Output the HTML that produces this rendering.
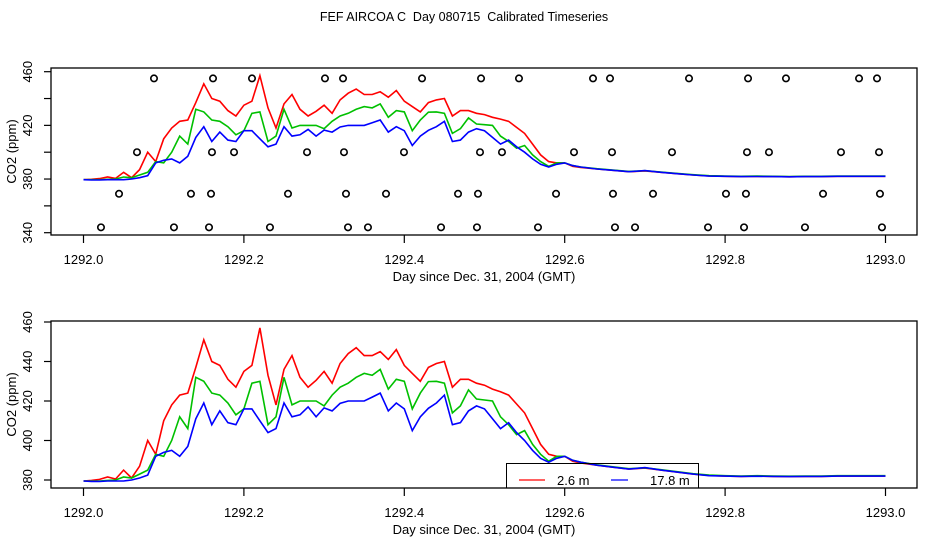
<!DOCTYPE html>
<html><head><meta charset="utf-8"><style>
html,body{margin:0;padding:0;background:#fff;}
svg{display:block;font-family:"Liberation Sans",sans-serif;}
</style></head><body>
<svg id="chart" width="936" height="540" xmlns="http://www.w3.org/2000/svg">
<text x="464" y="21" font-size="12.5" text-anchor="middle" style="white-space:pre">FEF AIRCOA C  Day 080715  Calibrated Timeseries</text>
<g id="top"></g>
<g id="bot"></g>
</svg>
<script>
const dayOffsets = [0,0.01,0.02,0.03,0.04,0.05,0.06,0.07,0.08,0.09,0.10,0.11,0.12,0.13,0.14,0.15,0.16,0.17,0.18,0.19,0.20,0.21,0.22,0.23,0.24,0.25,0.26,0.27,0.28,0.29,0.30,0.31,0.32,0.33,0.34,0.35,0.36,0.37,0.38,0.39,0.40,0.41,0.42,0.43,0.44,0.45,0.46,0.47,0.48,0.49,0.50,0.51,0.52,0.53,0.54,0.55,0.56,0.57,0.58,0.59,0.60,0.61,0.62,0.64,0.66,0.68,0.70,0.72,0.74,0.76,0.78,0.80,0.82,0.84,0.86,0.88,0.90,0.92,0.94,0.96,0.98,1.0];
const co2Red = [379.5,379.8,380.3,381.5,380.5,385,381,387,400,393,410,418,423,424,437,451,440,438,431,427,435,438,457,433,418,436,443,432,427,430.5,435,429,439,444,447,443,443,445,441,446,438,434,430,437,439,440,427,431,431,429,428,426,424.7,423,418.5,414,406,398,393,392,392,389.5,388.6,387.5,386.5,385.5,386,385,384,383,382.3,382,381.8,382,381.8,381.7,381.8,381.8,382,382,382,382];
const co2Green = [379.5,379.5,379.5,379.8,380,381.5,381,383,385,393,392,400,412,406,432,430,424,423,419,413,416,429,430,408,412,432,418,420,420,420,417.5,423,427,429,432,434,433,436,426,431,430,416,424,429.8,430,429,414,417.5,425.6,421,420.5,420,412,408,403,405,398,393,389.5,392,392,390,389,387.7,386.7,385.7,386.2,385.2,384.2,383.2,382.5,382.2,382,382.2,382,381.9,382,382,382.2,382.2,382.2,382.2];
const co2Blue = [379.5,379.3,379.3,379.5,379.5,379.5,380,381,382.5,392,394,395,392,397,411,419,408,415,409,408,416,416,410,404,406,419,412,413,417,412,416.5,415,418.8,420,420,420,422,424,415,419,416,405,412,416.3,419,423,408,409,415,417.5,416,411,406,409,404,400,395,391,389,391,392,390,389,387.5,386.5,385.5,386.3,385,384,383,382.2,382,381.8,381.9,381.8,381.7,381.8,381.8,382,382,382,382];
const valveLevels = [455,400,369,344];
const valveDays455 = [0.0879,0.1615,0.2101,0.3011,0.3236,0.4221,0.4957,0.5430,0.6353,0.6565,0.7550,0.8286,0.8759,0.9670,0.9894];
const valveDays400 = [0.0667,0.1602,0.1877,0.2787,0.3248,0.3996,0.4944,0.5218,0.6116,0.6590,0.7338,0.8273,0.8547,0.9445,0.9919];
const valveDays369 = [0.0443,0.1340,0.1590,0.2550,0.3273,0.3772,0.4670,0.4919,0.5892,0.6602,0.7101,0.8011,0.8260,0.9221,0.9931];
const valveDays344 = [0.0218,0.1128,0.1565,0.2325,0.3298,0.3547,0.4458,0.4906,0.5667,0.6627,0.6877,0.7787,0.8236,0.8996,0.9956];
const xTicks = [1292.0,1292.2,1292.4,1292.6,1292.8,1293.0];
const xTickLabels = ["1292.0","1292.2","1292.4","1292.6","1292.8","1293.0"];
const topYTicks = [340,360,380,400,420,440,460];
const topYLabels = ["340","","380","","420","","460"];
const botYTicks = [380,400,420,440,460];
const botYLabels = ["380","400","420","440","460"];
const dayBase = 1292.0;

const NS = "http://www.w3.org/2000/svg";
function mk(parent, tag, attrs){const e=document.createElementNS(NS,tag);for(const k in attrs)e.setAttribute(k,attrs[k]);parent.appendChild(e);return e;}
const xScale = d => 83.5 + (d - 1292.0) * 802;

function panel(g, box, yMin, yMax, yPix0, yPix1, yTicks, yLabels, withValves, withLegend, prefix){
  const yScale = v => yPix0 + (v - yMin) * (yPix1 - yPix0) / (yMax - yMin);
  const frame = mk(g,'rect',{x:box.l,y:box.t,width:box.r-box.l,height:box.b-box.t,fill:'none',stroke:'#000','stroke-width':1.3});
  
  
  xTicks.forEach((t,i)=>{
    const x=xScale(t);
    const tk=mk(g,'line',{x1:x,x2:x,y1:box.b,y2:box.b+8,stroke:'#000','stroke-width':1.2});
    
    
    const lb=mk(g,'text',{x:x,y:box.b+29,'font-size':13,'text-anchor':'middle'});
    lb.textContent=xTickLabels[i];
    
    
  });
  yTicks.forEach((t,i)=>{
    const y=yScale(t);
    const tk=mk(g,'line',{x1:box.l-7,x2:box.l,y1:y,y2:y,stroke:'#000','stroke-width':1.2});
    
    
    if(yLabels[i]){
      const lb=mk(g,'text',{x:0,y:0,'font-size':13,'text-anchor':'middle',transform:`translate(32,${y}) rotate(-90)`});
      lb.textContent=yLabels[i];
      
      
    }
  });
  const yt=mk(g,'text',{x:0,y:0,'font-size':13,'text-anchor':'middle',transform:`translate(16,${(box.t+box.b)/2}) rotate(-90)`});
  yt.textContent='CO2 (ppm)';
  
  
  const xt=mk(g,'text',{x:484,y:box.b+46,'font-size':13,'text-anchor':'middle'});
  xt.textContent='Day since Dec. 31, 2004 (GMT)';
  
  
  const series=[[co2Red,'#ff0000','red-2-6m'],[co2Green,'#00c000','green-mid'],[co2Blue,'#0000ff','blue-17-8m']];
  series.forEach(s=>{
    const pts=s[0].map((v,i)=>xScale(dayBase+dayOffsets[i]).toFixed(1)+','+yScale(v).toFixed(1)).join(' ');
    const pl=mk(g,'polyline',{points:pts,fill:'none',stroke:s[1],'stroke-width':1.6,'stroke-linejoin':'miter'});
    
    
  });
  if(withValves){
    [valveDays455,valveDays400,valveDays369,valveDays344].forEach((arr,li)=>{
      arr.forEach(d=>{
        const c=mk(g,'circle',{cx:xScale(dayBase+d),cy:yScale(valveLevels[li]),r:3.2,fill:'none',stroke:'#000','stroke-width':1.6});
        
        
      });
    });
  }
  if(withLegend){
    const lg=mk(g,'g',{});
    
    
    mk(lg,'rect',{x:506.5,y:463.5,width:192,height:box.b-463.5,fill:'none',stroke:'#000','stroke-width':1});
    const l1=mk(lg,'line',{x1:519,x2:545,y1:480,y2:480,stroke:'#ff0000','stroke-width':1.2});
    
    
    const t1=mk(lg,'text',{x:557,y:485,'font-size':13});
    t1.textContent='2.6 m';
    
    
    const l2=mk(lg,'line',{x1:611,x2:628,y1:480,y2:480,stroke:'#0000ff','stroke-width':1.2});
    
    
    const t2=mk(lg,'text',{x:650,y:485,'font-size':13});
    t2.textContent='17.8 m';
    
    
  }
}
panel(document.getElementById('top'),{l:51,r:917,t:68,b:235},340,460,232.7,71.7,topYTicks,topYLabels,true,false,'top');
panel(document.getElementById('bot'),{l:51,r:917,t:321,b:488},380,460,480,322,botYTicks,botYLabels,false,true,'bottom');
</script>
</body></html>
